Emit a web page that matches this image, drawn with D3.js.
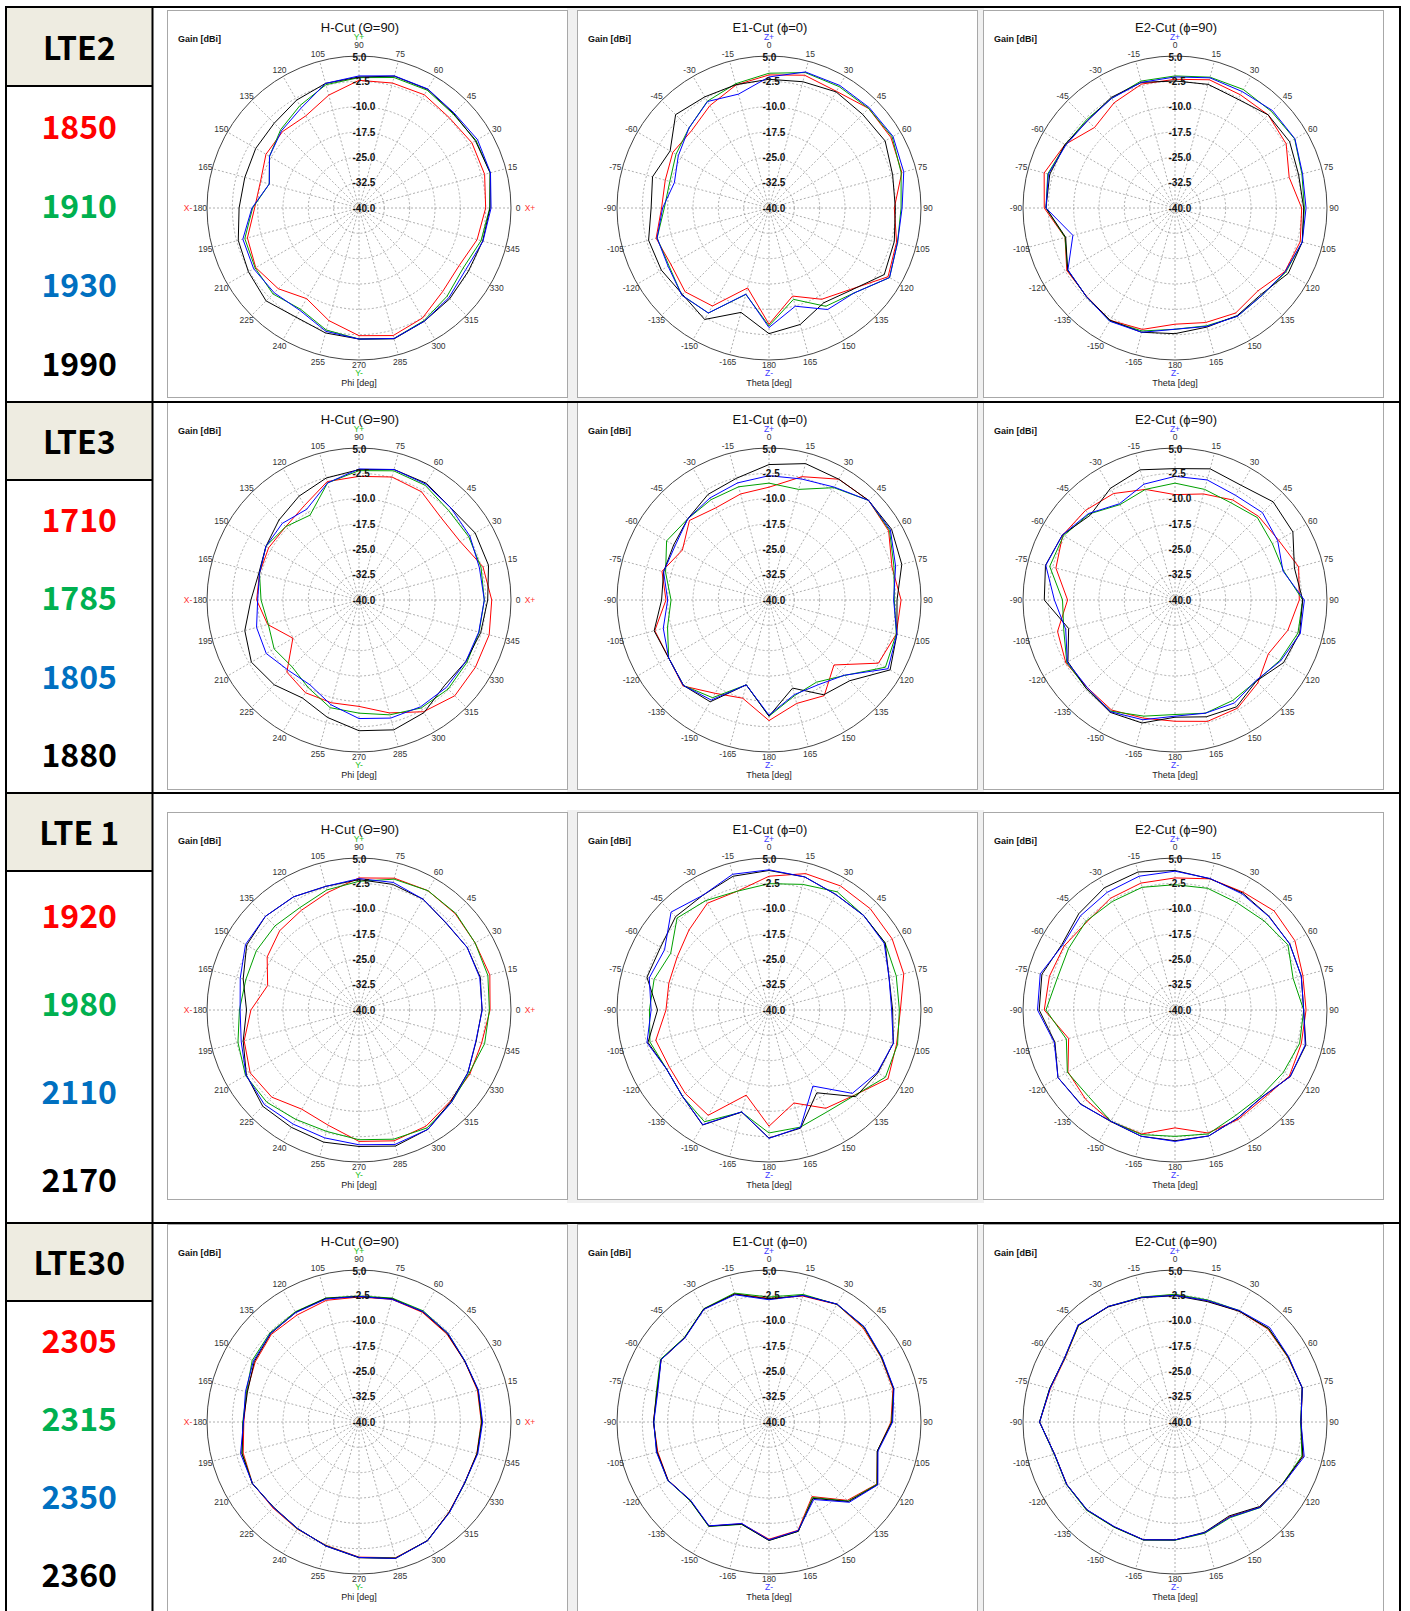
<!DOCTYPE html>
<html>
<head>
<meta charset="utf-8">
<script src="https://cdn.jsdelivr.net/npm/d3@7"></script>
<style>
  body { margin: 0; background: #fff; }
  svg { display: block; }
</style>
</head>
<body>
<svg id="chart" width="1410" height="1611"></svg>
<script>
// ---- Band / frequency labels -------------------------------------------
const bandNames = ["LTE2", "LTE3", "LTE 1", "LTE30"];
const bandFreqs = [
  ["1850", "1910", "1930", "1990"],
  ["1710", "1785", "1805", "1880"],
  ["1920", "1980", "2110", "2170"],
  ["2305", "2315", "2350", "2360"]
];
const freqColors = ["#ff0000", "#00b050", "#0070c0", "#000000"];
const traceColors = ["#ff0000", "#00a000", "#0000ff", "#000000"];

// ---- Plot axes -----------------------------------------------------------
const cutTitles = ["H-Cut (\u0398=90)", "E1-Cut (\u03d5=0)", "E2-Cut (\u03d5=90)"];
const cutAxisNames = ["Phi [deg]", "Theta [deg]", "Theta [deg]"];
const ringValues = [5, -2.5, -10, -17.5, -25, -32.5, -40];
const ringLabels = ["5.0", "-2.5", "-10.0", "-17.5", "-25.0", "-32.5", "-40.0"];
const angleSteps = d3.range(0, 360, 15);

// ---- Gain [dBi] per 15 deg step; order of series = band frequencies ------
// H-cut: phi 0..345 ; E-cuts: theta 0..180 then -165..-15
const lte2H = [
  [-2.5,-1.5,-1.4,-2.2,-1.3,-1.7,-2.2,-5.4,-8.5,-8.0,-8.2,-9.8,-9.1,-5.8,-4.7,-6.2,-9.0,-5.5,-2.2,-0.9,-2.4,-5.0,-5.8,-3.8],
  [-1.3,0.2,0.0,-0.6,0.3,0.0,-1.4,-2.2,-5.0,-7.2,-9.4,-12.5,-8.5,-5.0,-4.5,-4.0,-5.4,-2.6,-1.2,0.0,-1.5,-3.1,-4.4,-2.6],
  [-0.9,0.3,0.5,-0.2,0.7,0.5,-0.9,-1.8,-5.8,-7.6,-9.4,-12.5,-8.3,-4.4,-4.0,-4.5,-5.0,-2.2,-1.2,0.0,-1.3,-2.4,-3.5,-2.0],
  [-1.2,0.2,-0.2,-0.4,0.6,0.4,-1.2,-1.8,-3.1,-4.5,-4.7,-5.0,-4.5,-3.0,-2.2,-1.1,-2.7,-1.7,-1.2,0.1,-1.3,-2.0,-2.6,-2.1]
];
const lte2E1 = [
  [-0.6,0.7,-0.1,1.7,1.7,0.7,-2.9,-0.9,0.7,-5.9,-8.8,-13,-5.6,-15.5,-6.5,-4.9,-6.5,-5.4,-8.2,-8.2,-7.1,-7.6,-5.0,-2.3],
  [-0.1,1.5,1.5,1.7,2.1,0.5,-0.9,-0.6,1.2,-4.4,-6.4,-12,-5.1,-13.5,-4.1,-3.5,-5.8,-5.7,-9.0,-9.6,-8.2,-6.5,-3.5,-1.9],
  [-1.2,1.7,1.9,2.0,2.4,1.3,-0.6,-0.6,1.2,-4.4,-5.3,-9.9,-4.6,-13.6,-4.1,-3.5,-5.5,-5.7,-8.5,-11,-9,-6.5,-3.6,-5.1],
  [-1.9,-1.3,-0.3,-0.8,-0.3,-2.1,-2.6,-1.6,-0.6,-5.6,-7.6,-4.3,-2.8,-8,-1.9,-3.8,-3.2,-3.1,-5.1,-4.3,-6.2,-0.9,-2.0,-2.2]
];
const lte2E2 = [
  [-1.9,-0.7,-1.3,-1.0,-2.0,-5.0,-2.5,-1.6,-2.4,-5.3,-4.1,-4.9,-5.6,-2.8,-1.6,-3.0,-3.0,-6.3,-1.3,0.1,-2.4,-6.3,-4.0,-2.0],
  [-0.9,0.1,0.5,0.4,0.9,-1.1,-1.7,-1.0,-2.1,-3.5,-3.0,-3.9,-4.1,-2.3,-1.4,-2.9,-3.3,-6.3,-1.8,-1.0,-2.5,-3.0,-2.5,-1.1],
  [-1.2,-0.1,-0.2,0.8,1.0,-0.9,-1.2,-1.0,-2.3,-3.5,-3.0,-3.7,-4.1,-1.9,-1.3,-2.9,-3.4,-8.7,-1.8,-1.2,-2.7,-3.4,-2.5,-1.5],
  [-2.4,-2.1,-2.8,-1.0,-0.8,-2.1,-1.9,-1.0,-1.3,-3.9,-3.2,-3.5,-2.8,-1.9,-1.6,-2.9,-3.3,-6.5,-1.8,-1.6,-2.4,-3.4,-2.2,-1.5]
];
const lte3H = [
  [-0.7,-2.0,-5.4,-5.6,-3.0,-2.3,-3.4,-3.7,-7.7,-9.3,-9.1,-9.5,-9.7,-12,-17.4,-9.8,-8.3,-8.5,-8.5,-5.4,-1.8,0.1,-0.2,-0.1],
  [-2.9,-2.6,-2.5,-2.5,-0.8,-0.4,-1.7,-4.1,-11,-9.3,-8.2,-9.5,-11,-12.2,-11,-12,-10,-7,-6.5,-4.8,-3.1,-2.7,-3.1,-3.2],
  [-2.9,-3.1,-2.1,-1.5,-0.4,0.0,-1.2,-4.1,-9,-7.9,-8.2,-9.5,-10,-8.6,-8.3,-10.5,-11,-7.9,-4.9,-3.8,-3.5,-3.4,-3.5,-3.3],
  [-1.9,-0.3,-0.3,-1.5,-0.1,0.0,-1.4,-2.6,-4.5,-6.5,-8.2,-9.3,-8.0,-5.0,-3.2,-4.5,-6.5,-4.0,-1.3,-0.2,-1.5,-4.2,-3.5,-2.7]
];
const lte3E1 = [
  [-6.6,-2.2,1.3,1.7,0.9,-2.3,-0.9,-1.0,-2.6,-12.8,-7.3,-8.3,-4.3,-9.9,-8.1,-4.0,-5.7,-5.0,-9.5,-7.2,-10.4,-6.7,-8.5,-7.5],
  [-5.4,-6.1,-1.6,1.7,1.2,-1.7,-2.9,-1.0,-0.2,-8.4,-11.9,-10.7,-5.6,-14,-6.6,-4.2,-5.7,-8.9,-11,-8.3,-5,-6.0,-5.7,-5.3],
  [-3.2,-2.9,-1.4,1.7,1.5,-1.2,-3.1,-0.8,0.7,-8.5,-11,-11,-5.9,-14,-5.8,-4.2,-5.7,-7.6,-10,-7.7,-7.9,-6.0,-5.1,-4.1],
  [0.1,1.8,1.3,1.7,1.9,0.7,-2.1,-0.8,1.4,-6.2,-7.6,-13,-5.6,-14,-5.2,-4.2,-5.7,-4.8,-8.2,-7.7,-7.4,-6.0,-3.9,-2.7]
];
const lte3E2 = [
  [-8.8,-7.5,-5.8,-5.0,-4.6,-2.1,-3.2,-5.4,-8.1,-5.3,-3.0,-2.8,-4.1,-3.8,-2.4,-3.3,-2.7,-4.0,-8.2,-3.5,-1.6,-2.5,-3.6,-6.1],
  [-5.4,-6.1,-6.8,-5.5,-6.7,-6.7,-2.2,-2.3,-4.2,-6.0,-5.7,-5.3,-6.1,-4.4,-2.0,-2.9,-3.0,-5.9,-6.7,-1.6,-1.9,-4.0,-7.4,-6.1],
  [-3.4,-3.2,-4.2,-3.4,-4.9,-6.9,-1.7,-1.6,-3.9,-6.2,-4.8,-5.3,-5.6,-3.3,-1.8,-3.3,-3.2,-6.5,-4.3,-0.4,-1.5,-3.8,-7.1,-4.5],
  [-1.1,0.2,-0.8,1.1,0.3,-3.4,-2.2,-1.8,-2.9,-6.0,-3.5,-4.2,-5.3,-2.3,-1.6,-2.9,-3.4,-7.4,-1.3,-0.3,-1.5,-4.5,-1.8,-0.1]
];
const lte1H = [
  [-1.2,0.1,-0.3,0.3,0.8,0.4,-0.9,-4.0,-5.9,-6.8,-8.6,-12,-8.0,-4.8,-2.8,-3.5,-6.1,-4.7,-1.1,0.1,-0.3,-1.8,-2.1,-2.4],
  [-1.4,-0.5,-0.3,0.5,0.8,0.1,-1.9,-3.2,-5.0,-4.8,-4.9,-5.3,-4.6,-2.9,-1.2,-1.4,-2.6,-2.8,-1.6,-0.4,0.3,-1.3,-2.4,-1.5],
  [-3.5,-3.0,-3.0,-3.5,-2.1,-0.9,-1.1,-2.1,-1.3,-0.8,-1.2,-3.6,-4.8,-3.9,-1.4,-0.4,-1.0,-0.8,-0.1,1.2,0.8,-1.3,-2.8,-4.2],
  [-3.6,-2.8,-3.0,-3.6,-2.1,-1.5,-1.4,-2.1,-1.3,-0.8,-1.6,-4.5,-6.7,-4.5,-1.5,0.3,0.1,0.5,0.4,1.7,0.8,-1.6,-2.8,-4.1]
];
const lte1E1 = [
  [-0.4,1.8,2.4,2.4,2.1,1.3,-1.1,-0.9,0.7,-4.3,-6.4,-11.5,-5.6,-13.9,-4.0,-5.0,-6.0,-5.3,-9.5,-9.3,-8.6,-6.5,-3.5,-3.6],
  [-2.6,-1.5,0.4,-0.4,-0.3,-1.0,-1.4,-0.6,-0.2,-4.2,-5.3,-4.1,-3.6,-8.7,-1.8,-3.8,-5.0,-3.5,-4.6,-4.8,-6.4,-1.5,-2.6,-3.6],
  [1.5,0.8,-0.5,-0.4,-0.6,-3.2,-3.7,-1.9,-3.0,-5.1,-14,-4.0,-2.0,-8.8,-0.8,-3.8,-5.0,-2.6,-5.1,-3.3,-4.3,1.0,-0.8,1.6],
  [1.3,0.8,-0.5,-0.4,-0.3,-3.2,-3.4,-1.9,-2.8,-3.7,-11.7,-3.8,-2.1,-8.7,-0.7,-3.8,-5.0,-2.9,-7.0,-2.6,-2.9,-0.9,-0.8,1.0]
];
const lte1E2 = [
  [-0.9,0.2,0.3,1.5,1.0,-0.8,-1.2,-1.3,-0.9,-3.0,-2.6,-2.3,-5.1,-2.0,-1.9,-2.6,-3.4,-7.4,-1.3,-1.5,-2.1,-3.1,-1.8,-1.1],
  [-2.9,-2.7,-3.3,-2.7,-1.4,-3.8,-1.9,-1.8,-3.0,-4.0,-4.0,-2.0,-2.6,-1.8,-2.0,-3.8,-3.2,-6.7,-1.8,-3.9,-3.6,-2.8,-2.9,-2.4],
  [1.1,0.3,-0.3,-0.8,-0.8,-1.3,-1.9,-0.1,-0.6,-3.5,-3.0,-1.4,-1.1,-1.3,-2.0,-0.5,0.0,-3.0,0.7,1.3,-1.6,-0.5,0.2,1.0],
  [1.3,0.2,0.0,-0.7,-0.8,-1.3,-1.9,0.1,-0.6,-3.6,-3.0,-1.4,-1.3,-1.3,-1.9,-0.6,0.0,-3.2,0.2,0.8,-1.3,0.3,1.8,2.3]
];
const lte30H = [
  [-3.8,-3.7,-3.9,-3.2,-2.5,-2.4,-3.0,-2.7,-3.4,-3.3,-4.5,-5.6,-5.9,-4.5,-3.6,-4.0,-3.4,-2.2,0.0,1.6,0.6,-2.3,-3.9,-3.9],
  [-3.7,-3.5,-3.8,-2.8,-2.0,-2.0,-2.7,-2.0,-2.3,-2.7,-3.5,-5.5,-5.6,-4.2,-3.6,-4.2,-3.5,-2.1,0.1,1.7,0.6,-2.2,-3.8,-3.8],
  [-3.4,-3.4,-3.8,-2.8,-2.2,-2.4,-2.8,-2.3,-2.6,-2.9,-3.9,-5.2,-5.8,-3.7,-3.6,-4.2,-3.6,-2.0,0.1,1.8,0.6,-2.1,-3.9,-3.6],
  [-3.6,-3.5,-3.9,-3.0,-2.3,-2.2,-2.9,-2.1,-2.5,-3.0,-4.2,-5.8,-5.7,-4.1,-3.5,-4.3,-3.6,-2.0,0.2,1.8,0.5,-2.2,-3.9,-3.8]
];
const lte30E1 = [
  [-3.4,-1.4,0.2,-0.6,-1.7,-2.0,-3.9,-6.8,-3.2,-7.2,-14.5,-6.8,-5.3,-8.8,-4.4,-7.1,-5.5,-5.9,-5.8,-5.6,-3.1,-4.7,-1.4,-0.7],
  [-3.0,-0.9,0.2,-0.3,-1.6,-1.8,-3.7,-6.8,-3.1,-6.9,-14.2,-6.5,-5.0,-8.6,-4.3,-7.0,-5.4,-5.6,-5.9,-5.5,-2.9,-4.6,-1.3,-0.5],
  [-3.8,-1.2,0.3,-0.1,-1.4,-1.7,-3.4,-6.6,-2.8,-6.4,-13.5,-6.7,-5.1,-8.9,-4.5,-7.2,-5.4,-5.5,-5.9,-5.9,-3.1,-4.8,-1.5,-1.0],
  [-3.6,-1.2,0.3,-0.2,-1.5,-1.8,-3.6,-6.8,-2.9,-6.7,-13.9,-6.5,-4.9,-8.7,-4.4,-7.1,-5.5,-5.7,-5.8,-5.7,-3.1,-4.7,-1.4,-0.8]
];
const lte30E2 = [
  [-2.3,-2.9,-2.1,-1.1,-1.5,-1.0,-2.7,-0.8,-3.3,-4.4,-7.6,-6.0,-5.1,-3.9,-4.1,-3.1,-3.0,-3.1,0.1,-1.8,-2.4,0.4,-0.5,-1.8],
  [-2.2,-2.6,-1.9,-0.9,-1.4,-1.0,-2.8,-1.1,-3.3,-4.2,-7.3,-5.9,-5.0,-3.8,-4.0,-3.0,-2.9,-3.0,0.1,-1.6,-2.3,0.4,-0.5,-1.7],
  [-2.5,-2.8,-1.9,-0.4,-1.2,-1.0,-2.7,-0.4,-3.1,-4.3,-7.5,-6.1,-5.1,-3.9,-4.2,-3.2,-3.0,-3.1,0.1,-1.7,-2.2,0.6,-0.5,-1.8],
  [-2.6,-3.1,-2.1,-0.8,-1.3,-1.0,-2.7,-0.8,-3.2,-4.6,-7.9,-6.2,-5.1,-3.9,-4.1,-3.2,-3.0,-3.1,0.1,-1.6,-2.2,0.5,-0.6,-1.9]
];
const patternRows = [
  [lte2H, lte2E1, lte2E2],
  [lte3H, lte3E1, lte3E2],
  [lte1H, lte1E1, lte1E2],
  [lte30H, lte30E1, lte30E2]
];

// ---- Layout ----------------------------------------------------------------
const svg = d3.select("#chart");
const tableLeft = 6, tableRight = 1400, colDivider = 152.5;
const rowTops = [7, 402, 793, 1223];
const rowBottoms = [402, 793, 1223, 1613];
const headerBottoms = [86, 480, 871, 1301];
const panelLefts = [167, 577, 983];
const panelTops = [10, 402, 812, 1224];
const panelW = 401, panelH = 388;
const centerDX = 192, centerDY = 198;
const R = 152;
const rScale = d3.scaleLinear().domain([-40, 5]).range([0, R]);
const uiFont = "'Liberation Sans', Arial, sans-serif";
const bandFont = "'Noto Sans CJK KR', 'Noto Sans', sans-serif";

svg.append("rect").attr("width", 1410).attr("height", 1611).attr("fill", "#fff");

// header cells
rowTops.forEach((t, i) => {
  svg.append("rect")
    .attr("x", tableLeft).attr("y", t)
    .attr("width", colDivider - tableLeft).attr("height", headerBottoms[i] - t)
    .attr("fill", "#eeece1");
});

// grey window background between the plot panels
panelTops.forEach((t, i) => {
  svg.append("rect")
    .attr("x", panelLefts[0] + panelW - 1).attr("y", t - 2)
    .attr("width", panelLefts[2] - panelLefts[0] - panelW + 2)
    .attr("height", panelH + 5)
    .attr("fill", "#f0f0f0");
});

// band names and frequencies
bandNames.forEach((name, i) => {
  const hc = (rowTops[i] + headerBottoms[i]) / 2 + 1.5;
  svg.append("text")
    .attr("x", (tableLeft + colDivider) / 2).attr("y", hc + 0.36 * 32)
    .attr("text-anchor", "middle")
    .attr("font-family", bandFont).attr("font-weight", 700).attr("font-size", 32)
    .attr("fill", "#000").text(name);
  const cellH = (rowBottoms[i] - headerBottoms[i]) / 4;
  bandFreqs[i].forEach((f, j) => {
    const cy = headerBottoms[i] + (j + 0.5) * cellH + 1.5;
    svg.append("text")
      .attr("x", (tableLeft + colDivider) / 2).attr("y", cy + 0.36 * 32)
      .attr("text-anchor", "middle")
      .attr("font-family", bandFont).attr("font-weight", 700).attr("font-size", 32)
      .attr("fill", freqColors[j]).text(f);
  });
});

// ---- Polar panels -------------------------------------------------------
function screenAngle(cut, step) {
  // degrees clockwise from 12 o'clock
  return cut === 0 ? (90 - step + 360) % 360 : step;
}
function polar(cx, cy, r, deg) {
  const a = deg * Math.PI / 180;
  return [cx + r * Math.sin(a), cy - r * Math.cos(a)];
}

function drawPanel(px, py, cut, series) {
  const g = svg.append("g");
  const cx = px + centerDX, cy = py + centerDY;

  g.append("rect")
    .attr("x", px + 0.5).attr("y", py + 0.5)
    .attr("width", panelW - 1).attr("height", panelH - 1)
    .attr("fill", "#fff").attr("stroke", "#a8a8a8");

  g.append("text")
    .attr("x", px + 193).attr("y", py + 17)
    .attr("dominant-baseline", "central").attr("text-anchor", "middle")
    .attr("font-family", uiFont).attr("font-size", 13).attr("fill", "#111")
    .text(cutTitles[cut]);

  g.append("text")
    .attr("x", px + 11).attr("y", py + 29)
    .attr("dominant-baseline", "central")
    .attr("font-family", uiFont).attr("font-weight", 700).attr("font-size", 9).attr("fill", "#111")
    .text("Gain [dBi]");

  // spokes
  angleSteps.forEach(s => {
    const [x2, y2] = polar(cx, cy, R, screenAngle(cut, s));
    g.append("line")
      .attr("x1", cx).attr("y1", cy).attr("x2", x2).attr("y2", y2)
      .attr("stroke", "#9a9a9a").attr("stroke-width", 0.8)
      .attr("stroke-dasharray", "2,2");
  });
  // inner rings
  ringValues.slice(1, -1).forEach(v => {
    g.append("circle")
      .attr("cx", cx).attr("cy", cy).attr("r", rScale(v))
      .attr("fill", "none").attr("stroke", "#9a9a9a").attr("stroke-width", 0.8)
      .attr("stroke-dasharray", "2,2");
  });
  // outer ring
  g.append("circle")
    .attr("cx", cx).attr("cy", cy).attr("r", rScale(ringValues[0]))
    .attr("fill", "none").attr("stroke", "#444").attr("stroke-width", 1);

  // angle tick labels
  angleSteps.forEach(s => {
    const label = cut === 0 ? String(s) : String(s <= 180 ? s : s - 360);
    const sa = screenAngle(cut, s);
    let [x, y] = polar(cx, cy, 159, sa);
    if (sa === 0) y = cy - 163;
    if (sa === 180) y = cy + 157;
    g.append("text")
      .attr("x", x).attr("y", y)
      .attr("text-anchor", "middle").attr("dominant-baseline", "central")
      .attr("font-family", uiFont).attr("font-size", 8.5).attr("fill", "#333")
      .text(label);
  });

  // axis direction markers
  const marker = (x, y, txt, color) => g.append("text")
    .attr("x", x).attr("y", y)
    .attr("text-anchor", "middle").attr("dominant-baseline", "central")
    .attr("font-family", uiFont).attr("font-size", 8.5).attr("fill", color)
    .text(txt);
  if (cut === 0) {
    marker(cx + 171, cy, "X+", "#ff3030");
    marker(cx - 171, cy, "X-", "#ff3030");
    marker(cx, cy - 171, "Y+", "#20c020");
    marker(cx, cy + 165, "Y-", "#20c020");
  } else {
    marker(cx, cy - 171, "Z+", "#4040ff");
    marker(cx, cy + 165, "Z-", "#4040ff");
  }
  g.append("text")
    .attr("x", cx).attr("y", cy + 175)
    .attr("text-anchor", "middle").attr("dominant-baseline", "central")
    .attr("font-family", uiFont).attr("font-size", 9).attr("fill", "#222")
    .text(cutAxisNames[cut]);

  // traces
  const line = d3.lineRadial()
    .angle((d, i) => screenAngle(cut, angleSteps[i]) * Math.PI / 180)
    .radius(d => rScale(d))
    .curve(d3.curveLinearClosed);
  [0, 1, 3, 2].forEach(k => {
    g.append("path")
      .attr("transform", `translate(${cx},${cy})`)
      .attr("d", line(series[k]))
      .attr("fill", "none").attr("stroke", traceColors[k]).attr("stroke-width", 1);
  });

  // ring value labels
  ringValues.forEach((v, i) => {
    g.append("text")
      .attr("x", cx - 6.5).attr("y", cy - rScale(v) + (i === 0 ? 1.5 : 0))
      .attr("dominant-baseline", "central")
      .attr("font-family", uiFont).attr("font-weight", 700).attr("font-size", 10).attr("fill", "#111")
      .text(ringLabels[i]);
  });
}

patternRows.forEach((row, i) => {
  row.forEach((series, c) => drawPanel(panelLefts[c], panelTops[i], c, series));
});

// ---- Table rules ----------------------------------------------------------
const rule = (x1, y1, x2, y2) => svg.append("line")
  .attr("x1", x1).attr("y1", y1).attr("x2", x2).attr("y2", y2)
  .attr("stroke", "#000").attr("stroke-width", 2);
rule(tableLeft, rowTops[0], tableRight, rowTops[0]);
rowTops.slice(1).forEach(y => rule(tableLeft, y, tableRight, y));
headerBottoms.forEach(y => rule(tableLeft, y, colDivider, y));
rule(tableLeft, rowTops[0] - 1, tableLeft, 1611);
rule(colDivider, rowTops[0] - 1, colDivider, 1611);
rule(tableRight, rowTops[0] - 1, tableRight, 1611);
</script>
</body>
</html>
